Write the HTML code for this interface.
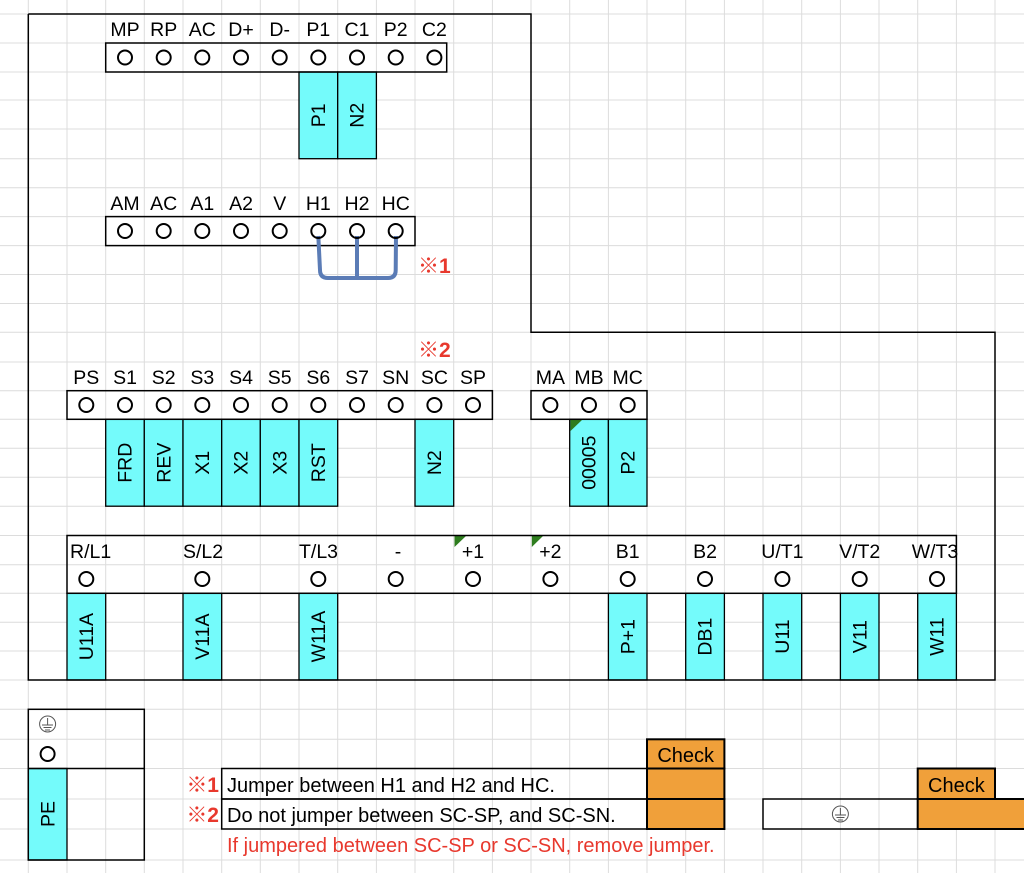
<!DOCTYPE html>
<html><head><meta charset="utf-8"><style>
html,body{margin:0;padding:0;background:#fff}
svg{display:block}
text{font-family:"Liberation Sans","Noto Sans CJK JP",sans-serif;font-size:19.5px;fill:#000}
.c{text-anchor:middle}
.red{fill:#e8382d}
.b{font-weight:bold}
.k{font-size:21px}
</style></head><body>
<svg width="1024" height="873" viewBox="0 0 1024 873" xmlns="http://www.w3.org/2000/svg">
<g stroke="#dcdcdc" stroke-width="1">
<line x1="28.3" y1="0" x2="28.3" y2="873"/><line x1="67" y1="0" x2="67" y2="873"/><line x1="105.7" y1="0" x2="105.7" y2="873"/><line x1="144.3" y1="0" x2="144.3" y2="873"/><line x1="183" y1="0" x2="183" y2="873"/><line x1="221.7" y1="0" x2="221.7" y2="873"/><line x1="260.3" y1="0" x2="260.3" y2="873"/><line x1="299" y1="0" x2="299" y2="873"/><line x1="337.7" y1="0" x2="337.7" y2="873"/><line x1="376.4" y1="0" x2="376.4" y2="873"/><line x1="415" y1="0" x2="415" y2="873"/><line x1="453.7" y1="0" x2="453.7" y2="873"/><line x1="492.4" y1="0" x2="492.4" y2="873"/><line x1="531" y1="0" x2="531" y2="873"/><line x1="569.7" y1="0" x2="569.7" y2="873"/><line x1="608.4" y1="0" x2="608.4" y2="873"/><line x1="647" y1="0" x2="647" y2="873"/><line x1="685.7" y1="0" x2="685.7" y2="873"/><line x1="724.4" y1="0" x2="724.4" y2="873"/><line x1="763" y1="0" x2="763" y2="873"/><line x1="801.7" y1="0" x2="801.7" y2="873"/><line x1="840.4" y1="0" x2="840.4" y2="873"/><line x1="879" y1="0" x2="879" y2="873"/><line x1="917.7" y1="0" x2="917.7" y2="873"/><line x1="956.4" y1="0" x2="956.4" y2="873"/><line x1="995" y1="0" x2="995" y2="873"/>
<line x1="0" y1="14" x2="1024" y2="14"/><line x1="0" y1="43" x2="1024" y2="43"/><line x1="0" y1="72" x2="1024" y2="72"/><line x1="0" y1="100" x2="1024" y2="100"/><line x1="0" y1="129" x2="1024" y2="129"/><line x1="0" y1="158.7" x2="1024" y2="158.7"/><line x1="0" y1="187.7" x2="1024" y2="187.7"/><line x1="0" y1="216.6" x2="1024" y2="216.6"/><line x1="0" y1="245.6" x2="1024" y2="245.6"/><line x1="0" y1="274.5" x2="1024" y2="274.5"/><line x1="0" y1="303.5" x2="1024" y2="303.5"/><line x1="0" y1="332.3" x2="1024" y2="332.3"/><line x1="0" y1="362" x2="1024" y2="362"/><line x1="0" y1="390.7" x2="1024" y2="390.7"/><line x1="0" y1="419.3" x2="1024" y2="419.3"/><line x1="0" y1="448.3" x2="1024" y2="448.3"/><line x1="0" y1="477.2" x2="1024" y2="477.2"/><line x1="0" y1="506.2" x2="1024" y2="506.2"/><line x1="0" y1="535.5" x2="1024" y2="535.5"/><line x1="0" y1="564.7" x2="1024" y2="564.7"/><line x1="0" y1="593.3" x2="1024" y2="593.3"/><line x1="0" y1="622.3" x2="1024" y2="622.3"/><line x1="0" y1="651" x2="1024" y2="651"/><line x1="0" y1="680" x2="1024" y2="680"/><line x1="0" y1="709.3" x2="1024" y2="709.3"/><line x1="0" y1="739.3" x2="1024" y2="739.3"/><line x1="0" y1="768.5" x2="1024" y2="768.5"/><line x1="0" y1="799" x2="1024" y2="799"/><line x1="0" y1="829" x2="1024" y2="829"/><line x1="0" y1="860" x2="1024" y2="860"/>
</g>

<g fill="#74fbfb" stroke="#000" stroke-width="1.3">
<rect x="299" y="72" width="38.7" height="86.7"/><rect x="337.7" y="72" width="38.7" height="86.7"/>
<rect x="105.7" y="419.3" width="38.6" height="86.9"/><rect x="144.3" y="419.3" width="38.7" height="86.9"/><rect x="183" y="419.3" width="38.7" height="86.9"/><rect x="221.7" y="419.3" width="38.6" height="86.9"/><rect x="260.3" y="419.3" width="38.7" height="86.9"/><rect x="299" y="419.3" width="38.7" height="86.9"/><rect x="415" y="419.3" width="38.7" height="86.9"/><rect x="569.7" y="419.3" width="38.7" height="86.9"/><rect x="608.4" y="419.3" width="38.6" height="86.9"/>
<rect x="67" y="593.3" width="38.7" height="86.7"/><rect x="183" y="593.3" width="38.7" height="86.7"/><rect x="299" y="593.3" width="38.7" height="86.7"/><rect x="608.4" y="593.3" width="38.6" height="86.7"/><rect x="685.7" y="593.3" width="38.7" height="86.7"/><rect x="763" y="593.3" width="38.7" height="86.7"/><rect x="840.4" y="593.3" width="38.6" height="86.7"/><rect x="917.7" y="593.3" width="38.7" height="86.7"/>
<rect x="28.3" y="768.5" width="38.7" height="91.5"/>
</g>
<g fill="#2e7d1e">
<polygon points="570.5,420 582,420 570.5,431"/>
<polygon points="454.5,536 466,536 454.5,547"/>
<polygon points="531.8,536 543,536 531.8,547"/>
</g>

<g fill="none" stroke="#000" stroke-width="1.5">
<polyline points="28.3,14 531,14 531,332.3 995,332.3 995,680 28.3,680 28.3,14"/>
<rect x="105.7" y="43" width="341" height="29"/>
<rect x="105.7" y="216.6" width="309.3" height="29"/>
<rect x="67" y="390.7" width="425.4" height="28.6"/>
<rect x="531" y="390.7" width="116" height="28.6"/>
<rect x="67" y="535.5" width="889.4" height="57.8"/>
<rect x="28.3" y="709.3" width="116" height="150.7"/>
<line x1="28.3" y1="768.5" x2="144.3" y2="768.5"/>
<rect x="221.7" y="768.5" width="425.3" height="30.5"/>
<rect x="221.7" y="799" width="425.3" height="30"/>
<rect x="763" y="799" width="154.7" height="30"/>
</g>
<g fill="#f0a03a" stroke="#000" stroke-width="2">
<rect x="647" y="739.3" width="77.4" height="29.2"/><rect x="647" y="768.5" width="77.4" height="30.5"/><rect x="647" y="799" width="77.4" height="30"/>
<rect x="917.7" y="768.5" width="77.3" height="30.5"/><rect x="917.7" y="799" width="110" height="30"/>
</g>

<path d="M318.3 236 L320 270 Q320 278 328 278 L388 278 Q395.7 278 395.7 270 L396 236 M357 236 L357 278" fill="none" stroke="#5b7cb6" stroke-width="4" stroke-linejoin="round"/>

<g fill="none" stroke="#000" stroke-width="2">
<circle cx="125" cy="57.5" r="7"/><circle cx="163.7" cy="57.5" r="7"/><circle cx="202.3" cy="57.5" r="7"/><circle cx="241" cy="57.5" r="7"/><circle cx="279.7" cy="57.5" r="7"/><circle cx="318.3" cy="57.5" r="7"/><circle cx="357" cy="57.5" r="7"/><circle cx="395.7" cy="57.5" r="7"/><circle cx="434.4" cy="57.5" r="7"/>
<circle cx="125" cy="231" r="7"/><circle cx="163.7" cy="231" r="7"/><circle cx="202.3" cy="231" r="7"/><circle cx="241" cy="231" r="7"/><circle cx="279.7" cy="231" r="7"/><circle cx="318.3" cy="231" r="7"/><circle cx="357" cy="231" r="7"/><circle cx="395.7" cy="231" r="7"/>
<circle cx="86.3" cy="405" r="7"/><circle cx="125" cy="405" r="7"/><circle cx="163.7" cy="405" r="7"/><circle cx="202.3" cy="405" r="7"/><circle cx="241" cy="405" r="7"/><circle cx="279.7" cy="405" r="7"/><circle cx="318.3" cy="405" r="7"/><circle cx="357" cy="405" r="7"/><circle cx="395.7" cy="405" r="7"/><circle cx="434.4" cy="405" r="7"/><circle cx="473" cy="405" r="7"/>
<circle cx="550.4" cy="405" r="7"/><circle cx="589" cy="405" r="7"/><circle cx="627.7" cy="405" r="7"/>
<circle cx="86.3" cy="579" r="7"/><circle cx="202.3" cy="579" r="7"/><circle cx="318.3" cy="579" r="7"/><circle cx="395.7" cy="579" r="7"/><circle cx="473" cy="579" r="7"/><circle cx="550.4" cy="579" r="7"/><circle cx="627.7" cy="579" r="7"/><circle cx="705" cy="579" r="7"/><circle cx="782.4" cy="579" r="7"/><circle cx="859.7" cy="579" r="7"/><circle cx="937" cy="579" r="7"/>
<circle cx="47.6" cy="754" r="7"/>
</g>
<g fill="none" stroke="#555" stroke-width="1">
<circle cx="47.6" cy="724" r="8"/><line x1="47.6" y1="718" x2="47.6" y2="725"/><line x1="42" y1="725" x2="53" y2="725"/><line x1="43.5" y1="727.5" x2="51.5" y2="727.5"/><line x1="45" y1="730" x2="50" y2="730"/>
<circle cx="840.4" cy="814" r="8"/><line x1="840.4" y1="808" x2="840.4" y2="815"/><line x1="835" y1="815" x2="846" y2="815"/><line x1="836.5" y1="817.5" x2="844.5" y2="817.5"/><line x1="838" y1="820" x2="843" y2="820"/>
</g>

<g>
<text x="125" y="36" class="c">MP</text><text x="163.7" y="36" class="c">RP</text><text x="202.3" y="36" class="c">AC</text><text x="241" y="36" class="c">D+</text><text x="279.7" y="36" class="c">D-</text><text x="318.3" y="36" class="c">P1</text><text x="357" y="36" class="c">C1</text><text x="395.7" y="36" class="c">P2</text><text x="434.4" y="36" class="c">C2</text>
<text x="125" y="210" class="c">AM</text><text x="163.7" y="210" class="c">AC</text><text x="202.3" y="210" class="c">A1</text><text x="241" y="210" class="c">A2</text><text x="279.7" y="210" class="c">V</text><text x="318.3" y="210" class="c">H1</text><text x="357" y="210" class="c">H2</text><text x="395.7" y="210" class="c">HC</text>
<text x="86.3" y="384" class="c">PS</text><text x="125" y="384" class="c">S1</text><text x="163.7" y="384" class="c">S2</text><text x="202.3" y="384" class="c">S3</text><text x="241" y="384" class="c">S4</text><text x="279.7" y="384" class="c">S5</text><text x="318.3" y="384" class="c">S6</text><text x="357" y="384" class="c">S7</text><text x="395.7" y="384" class="c">SN</text><text x="434.4" y="384" class="c">SC</text><text x="473" y="384" class="c">SP</text>
<text x="550.4" y="384" class="c">MA</text><text x="589" y="384" class="c">MB</text><text x="627.7" y="384" class="c">MC</text>
<text x="70" y="558">R/L1</text><text x="183" y="558">S/L2</text><text x="299" y="558">T/L3</text><text x="398" y="558" class="c">-</text><text x="473" y="558" class="c">+1</text><text x="550.4" y="558" class="c">+2</text><text x="627.7" y="558" class="c">B1</text><text x="705" y="558" class="c">B2</text><text x="782.4" y="558" class="c">U/T1</text><text x="859.7" y="558" class="c">V/T2</text><text x="935" y="558" class="c">W/T3</text>
</g>

<g>
<text class="c" transform="translate(325,115.3) rotate(-90)">P1</text>
<text class="c" transform="translate(363.7,115.3) rotate(-90)">N2</text>
<text class="c" transform="translate(131.7,462.7) rotate(-90)">FRD</text>
<text class="c" transform="translate(170.4,462.7) rotate(-90)">REV</text>
<text class="c" transform="translate(209,462.7) rotate(-90)">X1</text>
<text class="c" transform="translate(247.7,462.7) rotate(-90)">X2</text>
<text class="c" transform="translate(286.4,462.7) rotate(-90)">X3</text>
<text class="c" transform="translate(325,462.7) rotate(-90)">RST</text>
<text class="c" transform="translate(441.1,462.7) rotate(-90)">N2</text>
<text class="c" transform="translate(595.7,462.7) rotate(-90)">00005</text>
<text class="c" transform="translate(634.4,462.7) rotate(-90)">P2</text>
<text class="c" transform="translate(93,636.6) rotate(-90)">U11A</text>
<text class="c" transform="translate(209,636.6) rotate(-90)">V11A</text>
<text class="c" transform="translate(325,636.6) rotate(-90)">W11A</text>
<text class="c" transform="translate(634.4,636.6) rotate(-90)">P+1</text>
<text class="c" transform="translate(711.7,636.6) rotate(-90)">DB1</text>
<text class="c" transform="translate(789.1,636.6) rotate(-90)">U11</text>
<text class="c" transform="translate(866.4,636.6) rotate(-90)">V11</text>
<text class="c" transform="translate(943.7,636.6) rotate(-90)">W11</text>
<text class="c" transform="translate(54.3,814) rotate(-90)">PE</text>
</g>

<text x="418" y="273" class="red b k">※1</text>
<text x="418" y="357" class="red b k">※2</text>
<text x="219" y="792" class="red b k" text-anchor="end">※1</text>
<text x="219" y="822" class="red b k" text-anchor="end">※2</text>
<text x="227" y="792" style="font-size:20px">Jumper between H1 and H2 and HC.</text>
<text x="227" y="822" style="font-size:20px">Do not jumper between SC-SP, and SC-SN.</text>
<text x="227" y="852" class="red" style="font-size:20px">If jumpered between SC-SP or SC-SN, remove jumper.</text>
<text x="685.7" y="762" class="c" style="font-size:20px">Check</text>
<text x="956.4" y="792" class="c" style="font-size:20px">Check</text>
</svg>
</body></html>
